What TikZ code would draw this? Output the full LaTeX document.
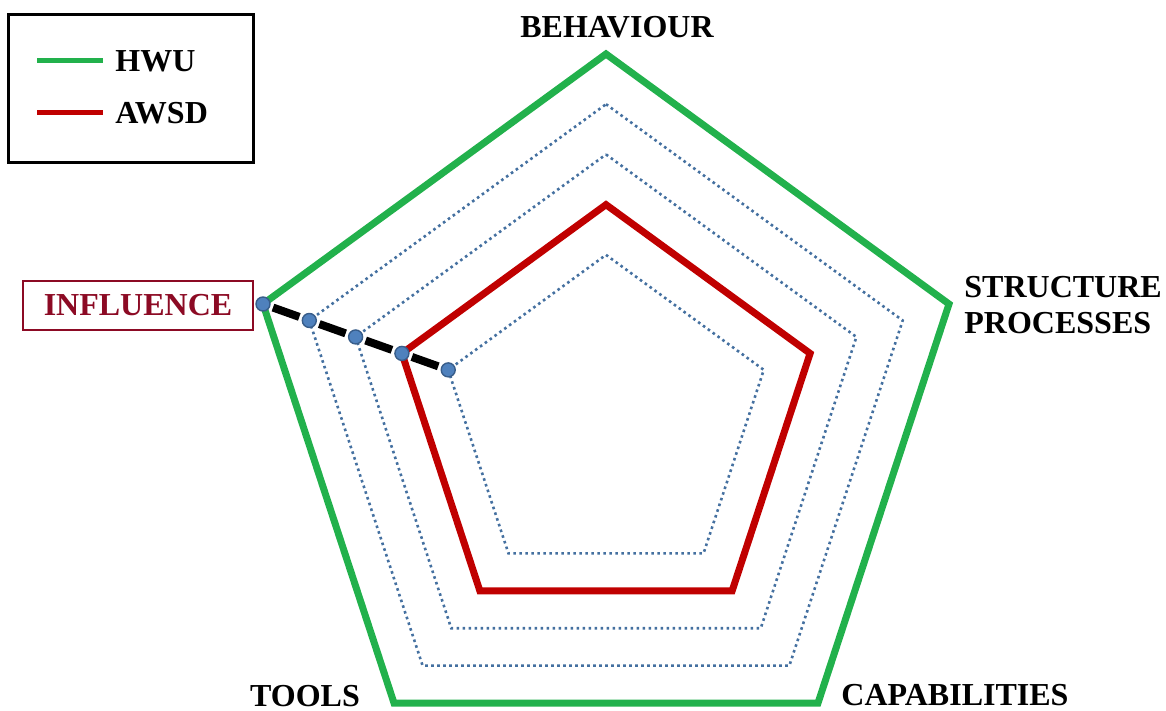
\documentclass[tikz,border=0pt]{standalone}
\usepackage{fontspec}
\setmainfont{Liberation Serif}
\usepackage{tikz}
\usetikzlibrary{positioning}
\definecolor{hwugreen}{RGB}{34,177,76}
\definecolor{awsdred}{RGB}{192,0,0}
\definecolor{gridblue}{RGB}{68,112,160}
\definecolor{dotfill}{RGB}{79,129,189}
\definecolor{dotedge}{RGB}{56,93,138}
\definecolor{inflred}{RGB}{140,10,36}
\tikzset{
  lab/.style={font=\fontsize{16}{18}\selectfont\bfseries,inner sep=0pt},
  gridline/.style={gridblue,line width=1.3pt,dash pattern=on 1.3pt off 1.7pt},
  hwuline/.style={hwugreen,line width=3.5pt,line join=miter},
  awsdline/.style={awsdred,line width=3.5pt,line join=miter},
  dot/.style={circle,fill=dotfill,draw=dotedge,line width=0.7pt,
    minimum size=7pt,inner sep=0pt,outer sep=1.8pt},
}
\begin{document}
\begin{tikzpicture}[x=0.5pt,y=-0.5pt,line cap=butt]

  \useasboundingbox (0,0) rectangle (1166,711);

  % vertices of the five levels
  \foreach \lvl/\f in {1/0.46,2/0.595,3/0.73,4/0.865,5/1}{
    \coordinate (b\lvl) at (606,{426-372*\f});
    \coordinate (s\lvl) at ({606+343*\f},{426-122*\f});
    \coordinate (c\lvl) at ({606+212*\f},{426+277*\f});
    \coordinate (t\lvl) at ({606-212*\f},{426+277*\f});
    \coordinate (i\lvl) at ({606-343*\f},{426-122*\f});
  }

  \foreach \lvl in {1,3,4}
    \draw [gridline] (b\lvl) -- (s\lvl) -- (c\lvl) -- (t\lvl) -- (i\lvl) -- cycle;

  \draw [awsdline] (b2) -- (s2) -- (c2) -- (t2) -- (i2) -- cycle;
  \draw [hwuline] (b5) -- (s5) -- (c5) -- (t5) -- (i5) -- cycle;

  % influence axis
  \foreach \lvl in {1,...,5}
    \node [dot] (d\lvl) at (i\lvl) {};
  \foreach \a/\b in {5/4,4/3,3/2,2/1}
    \draw [line width=4pt] (d\a) -- (d\b);

  \node [lab] (behav) at (617,27) {BEHAVIOUR};
  \node [lab,anchor=west,align=left] (struct) at (964,305) {STRUCTURE\\PROCESSES};
  \node [lab] (capab) at (955,695) {CAPABILITIES};
  \node [lab] (tools) at (305,696) {TOOLS};
  \node [lab,text=inflred,draw=inflred,line width=1.2pt,
    minimum width=115pt,minimum height=24.5pt] (infl) at (138,305.5) {INFLUENCE};

  % legend
  \draw [line width=1.5pt] (8,15) rectangle (253,163);
  \node [lab,anchor=west] (hwu) at (115,61) {HWU};
  \node [lab,anchor=west] (awsd) at (115,113) {AWSD};
  \coordinate (hwustart) at (37,61);
  \coordinate (awsdstart) at (37,113);
  \draw [hwugreen,line width=2.5pt] (hwustart) -- ([xshift=-6pt]hwu.west);
  \draw [awsdred,line width=2.5pt] (awsdstart) -- ([xshift=-6pt]awsd.west);

\end{tikzpicture}
\end{document}
